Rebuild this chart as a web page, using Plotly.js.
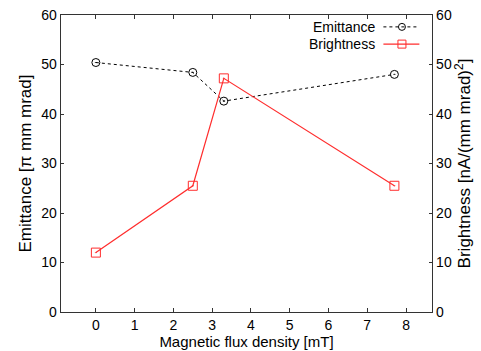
<!DOCTYPE html>
<html>
<head>
<meta charset="utf-8">
<script src="https://cdn.plot.ly/plotly-3.0.1.min.js"></script>
<style>html,body{margin:0;padding:0;background:#fff;}#chart{width:481px;height:351px;}</style>
</head>
<body>
<div id="chart"></div>
<script>
const fluxDensity = [0, 2.5, 3.3, 7.7];
const emittance = [50.4, 48.4, 42.6, 48.0];
const brightness = [12.0, 25.5, 47.2, 25.5];
const xTicks = [0, 1, 2, 3, 4, 5, 6, 7, 8];
const yTicks = [0, 10, 20, 30, 40, 50, 60];
const seriesNames = ['Emittance', 'Brightness'];

const black = '#000000';
const red = 'rgb(255,45,45)';
const axisColor = '#333333';
const fontFam = '"Liberation Sans", Arial, Helvetica, sans-serif';

const traces = [
  {
    x: fluxDensity, y: emittance, name: seriesNames[0], type: 'scatter', mode: 'lines+markers',
    line: {color: black, width: 1, dash: 'dot'},
    marker: {symbol: 'circle-open-dot', size: 8, color: black, line: {width: 1, color: black}},
    yaxis: 'y', showlegend: false
  },
  {
    x: fluxDensity, y: brightness, name: seriesNames[1], type: 'scatter', mode: 'lines+markers',
    line: {color: red, width: 1.2},
    marker: {symbol: 'square-open-dot', size: 9, color: red, line: {width: 1, color: red}},
    yaxis: 'y2', showlegend: false
  }
];

// Custom legend (text left of sample, as in reference)
const legY = [0.960, 0.902];
const legColors = [black, red];
const shapes = [];
const annotations = [];
for (let i = 0; i < 2; i++) {
  annotations.push({
    xref: 'paper', yref: 'paper', x: 0.852, y: legY[i], xanchor: 'right', yanchor: 'middle',
    text: seriesNames[i], showarrow: false, font: {family: fontFam, size: 14, color: '#000'}
  });
  shapes.push({
    type: 'line', xref: 'paper', yref: 'paper', x0: 0.869, x1: 0.966, y0: legY[i], y1: legY[i],
    line: {color: legColors[i], width: i === 0 ? 1 : 1.2, dash: i === 0 ? 'dot' : 'solid'}
  });
}
shapes.push({
  type: 'circle', xref: 'paper', yref: 'paper', xsizemode: 'pixel', ysizemode: 'pixel',
  xanchor: 0.919, yanchor: legY[0], x0: -3.5, x1: 3.5, y0: -3.5, y1: 3.5,
  line: {color: black, width: 1}, fillcolor: 'rgba(0,0,0,0)'
});
shapes.push({
  type: 'rect', xref: 'paper', yref: 'paper', xsizemode: 'pixel', ysizemode: 'pixel',
  xanchor: 0.919, yanchor: legY[1], x0: -4, x1: 4, y0: -4, y1: 4,
  line: {color: red, width: 1}, fillcolor: 'rgba(0,0,0,0)'
});

const tickFont = {family: fontFam, size: 14, color: '#000'};
const xTitleFont = {family: fontFam, size: 15, color: '#000'};
const yTitleFont = {family: fontFam, size: 17, color: '#000'};

const layout = {
  width: 481, height: 351,
  margin: {l: 61, r: 49, t: 15, b: 39, pad: 0},
  paper_bgcolor: '#fff', plot_bgcolor: '#fff',
  showlegend: false,
  xaxis: {
    range: [-0.9, 8.67], tickvals: xTicks, ticktext: xTicks.map(String),
    ticks: 'inside', ticklen: 4, tickcolor: axisColor, tickwidth: 1,
    showline: true, linecolor: axisColor, linewidth: 1.3, mirror: 'ticks',
    showgrid: false, zeroline: false, tickfont: tickFont,
    title: {text: 'Magnetic flux density [mT]', font: xTitleFont, standoff: 0}
  },
  yaxis: {
    range: [0, 60], tickvals: yTicks, ticktext: yTicks.map(String),
    ticks: 'inside', ticklen: 3, tickcolor: axisColor, tickwidth: 1,
    showline: true, linecolor: axisColor, linewidth: 1.3, mirror: false,
    showgrid: false, zeroline: false, tickfont: tickFont,
    title: {text: 'Emittance [π mm mrad]', font: yTitleFont, standoff: 5}
  },
  yaxis2: {
    range: [0, 60], tickvals: yTicks, ticktext: yTicks.map(String),
    overlaying: 'y', side: 'right',
    ticks: 'inside', ticklen: 3, tickcolor: axisColor, tickwidth: 1,
    showline: true, linecolor: axisColor, linewidth: 1.3,
    showgrid: false, zeroline: false, tickfont: tickFont,
    title: {text: 'Brightness [nA/(mm mrad)<sup>2</sup>]', font: yTitleFont, standoff: 7}
  },
  shapes: shapes,
  annotations: annotations
};

Plotly.newPlot('chart', traces, layout, {staticPlot: true, displayModeBar: false});
</script>
</body>
</html>
